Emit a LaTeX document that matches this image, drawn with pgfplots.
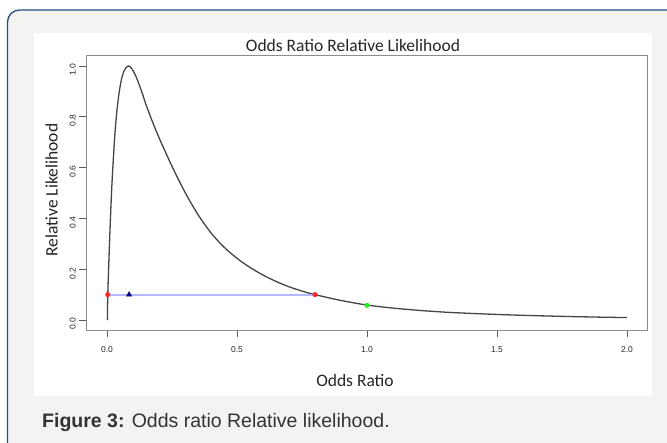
\documentclass[border=0pt]{standalone}
\usepackage{fontspec}
\setmainfont{Liberation Sans}
\newfontfamily\calfont{Carlito}
\usepackage{pgfplots}
\pgfplotsset{compat=1.18}
\definecolor{panel}{HTML}{F3F3F1}
\definecolor{border}{HTML}{2B4C85}
\definecolor{curvec}{HTML}{454545}
\definecolor{ciline}{HTML}{B3B8FF}
\definecolor{framec}{HTML}{8C8C8C}
\definecolor{navyc}{HTML}{000080}
\definecolor{greenc}{HTML}{22EE22}
\definecolor{redc}{HTML}{FF2626}
\begin{document}
\begin{tikzpicture}[x=1pt,y=1pt]
\useasboundingbox (0pt,0pt) rectangle (667pt,443pt);
\begin{scope}
\clip (0pt,0pt) rectangle (667pt,443pt);
\fill[white] (0pt,0pt) rectangle (667pt,443pt);
\filldraw[fill=panel, draw=border, line width=1.3pt, rounded corners=12pt] (7.5pt,-20pt) rectangle (690pt,433pt);
\end{scope}
\fill[white] (34pt,47pt) rectangle (652pt,410pt);
\node[anchor=base west, font=\fontsize{19.5}{22}\selectfont, text=black!80, inner sep=0] at (42pt,15pt) {\textbf{Figure 3:} Odds ratio Relative likelihood.};
\node[font=\calfont\fontsize{17.5}{20}\selectfont, text=black!85, inner sep=0] at (353pt,398pt) {Odds Ratio Relative Likelihood};
\node[font=\calfont\fontsize{17.5}{20}\selectfont, text=black!85, inner sep=0] at (355pt,63pt) {Odds Ratio};
\node[font=\calfont\fontsize{17.5}{20}\selectfont, text=black!85, inner sep=0, rotate=90] at (51.7pt,253pt) {Relative Likelihood};
\begin{axis}[
  at={(86.2pt,112.8pt)}, anchor=south west, scale only axis,
  width=561.6pt, height=274.4pt,
  xmin=-0.08, xmax=2.08, ymin=-0.04, ymax=1.04,
  xtick={0,0.5,1,1.5,2}, ytick={0,0.2,0.4,0.6,0.8,1},
  xtick pos=left, ytick pos=left,
  tick align=outside, major tick length=7pt,
  axis line style={framec, line width=0.9pt},
  tick style={black!65, line width=0.7pt},
  /pgf/number format/assume math mode=true,
  /pgf/number format/fixed, /pgf/number format/fixed zerofill, /pgf/number format/precision=1,
  tick label style={font=\fontsize{8.5}{10}\selectfont, text=black!85},
  xticklabel style={yshift=-6pt},
  yticklabel style={rotate=90, anchor=south, xshift=-4pt},
]
\addplot[curvec, line width=1.3pt, smooth, tension=0.5] table {
x y
0.0015 0.0
0.003 0.10
0.007 0.225
0.011 0.340
0.015 0.445
0.019 0.535
0.025 0.645
0.031 0.740
0.038 0.822
0.045 0.883
0.052 0.929
0.058 0.957
0.065 0.979
0.072 0.992
0.083 1.000
0.090 0.996
0.100 0.982
0.110 0.962
0.120 0.937
0.130 0.909
0.140 0.879
0.150 0.848
0.175 0.780
0.200 0.718
0.250 0.605
0.300 0.503
0.350 0.415
0.400 0.343
0.450 0.287
0.500 0.243
0.550 0.207
0.600 0.177
0.650 0.152
0.700 0.131
0.750 0.114
0.800 0.100
0.900 0.077
1.000 0.059
1.100 0.047
1.200 0.038
1.300 0.031
1.400 0.026
1.500 0.022
1.600 0.0185
1.700 0.0157
1.800 0.0133
1.900 0.0113
2.000 0.0097
};
\addplot[ciline, line width=2.2pt] coordinates {(0.003,0.1) (0.8,0.1)};
\addplot[only marks, mark=*, mark size=2.3pt, redc] coordinates {(0.003,0.1) (0.8,0.1)};
\addplot[only marks, mark=triangle*, mark size=3pt, navyc] coordinates {(0.085,0.1)};
\addplot[only marks, mark=*, mark size=2.3pt, greenc] coordinates {(1.0,0.058)};
\end{axis}
\end{tikzpicture}
\end{document}
